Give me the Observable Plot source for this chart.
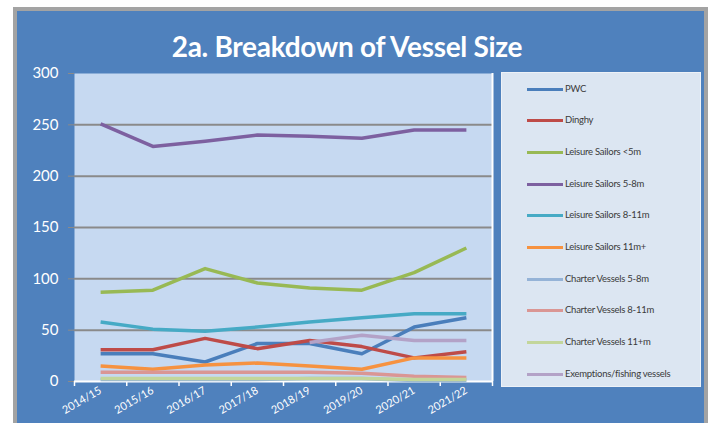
<!DOCTYPE html>
<html>
<head>
<meta charset="utf-8">
<script src="https://cdn.jsdelivr.net/npm/d3@7"></script>
<script src="https://cdn.jsdelivr.net/npm/@observablehq/plot@0.6"></script>
<style>
  html, body { margin: 0; padding: 0; background: #ffffff; width: 716px; height: 423px; overflow: hidden; }
  #panel { position: absolute; left: 13px; top: 7px; width: 695px; height: 440px; box-sizing: border-box;
           border: 4px solid #a3a3a3; border-bottom: none; background: #4f81bd; }
  #title { position: absolute; left: 17px; width: 660px; top: 29px; text-align: center; color: #ffffff;
           font-family: Lato, "Open Sans", sans-serif; font-weight: 700; font-size: 28px; letter-spacing: -0.3px; }
  #chart { position: absolute; left: 0; top: 0; }
  #legend { position: absolute; left: 501px; top: 72px; width: 200px; height: 315px; box-sizing: border-box;
            background: #dce6f2; border: 1.5px solid #eef2f8; }
  .item { position: absolute; left: 0; height: 14px; }
  .sw { position: absolute; left: 25px; width: 36px; height: 3px; top: 6px; }
  .lb { position: absolute; left: 63px; top: 0; white-space: nowrap; font-family: Lato, sans-serif;
        font-size: 9.5px; line-height: 14px; color: #3a3a3a; letter-spacing: -0.25px; }
</style>
</head>
<body>
<div id="panel"></div>
<div id="title">2a. Breakdown of Vessel Size</div>
<div id="chart"></div>
<div id="legend"></div>
<script>
const years = ["2014/15", "2015/16", "2016/17", "2017/18", "2018/19", "2019/20", "2020/21", "2021/22"];
const yTicks = [0, 50, 100, 150, 200, 250, 300];

const seriesNames = ["PWC", "Dinghy", "Leisure Sailors <5m", "Leisure Sailors 5-8m", "Leisure Sailors 8-11m",
  "Leisure Sailors 11m+", "Charter Vessels 5-8m", "Charter Vessels 8-11m", "Charter Vessels 11+m",
  "Exemptions/fishing vessels"];
const seriesColors = ["#4a7ebb", "#be4b48", "#98b954", "#7d60a0", "#46aac5",
  "#f69240", "#95b3d7", "#da9694", "#c3d69b", "#b3a2c7"];

const pwc        = [27, 27, 19, 37, 37, 27, 53, 62];
const dinghy     = [31, 31, 42, 32, 40, 34, 23, 29];
const leisureU5  = [87, 89, 110, 96, 91, 89, 106, 130];
const leisure5_8 = [251, 229, 234, 240, 239, 237, 245, 245];
const leisure8_11= [58, 51, 49, 53, 58, 62, 66, 66];
const leisure11  = [15, 12, 16, 18, 15, 12, 23, 23];
const charter5_8 = [2, 2, 2, 2, 3, 3, 1, 1];
const charter8_11= [9, 9, 9, 9, 9, 8, 5, 4];
const charter11  = [3, 3, 3, 3, 3, 3, 2, 2];
const exemptions = [null, null, null, null, 38, 45, 40, 40];

const seriesValues = [pwc, dinghy, leisureU5, leisure5_8, leisure8_11, leisure11,
  charter5_8, charter8_11, charter11, exemptions];

const tidy = [];
seriesNames.forEach((name, s) => {
  seriesValues[s].forEach((v, i) => tidy.push({name, i, value: v}));
});

const boundaries = d3.range(years.length + 1).map(k => k - 0.5);

const chart = Plot.plot({
  width: 500,
  height: 423,
  marginLeft: 74,
  marginRight: 8,
  marginTop: 73,
  marginBottom: 42,
  style: {background: "transparent", fontFamily: "Lato, sans-serif", overflow: "visible"},
  x: {type: "linear", domain: [-0.5, years.length - 0.5], label: null},
  y: {domain: [0, 300], label: null},
  color: {domain: seriesNames, range: seriesColors},
  marks: [
    Plot.frame({fill: "#c6d9f1", stroke: null}),
    Plot.ruleY(yTicks.filter(t => t > 0 && t < 300), {stroke: "#8a8a8a", strokeWidth: 2}),
    Plot.axisY(yTicks, {tickSize: 6, stroke: "#8a8a8a", tickFormat: () => "", strokeWidth: 1, label: null}),
    Plot.axisY(yTicks, {tickSize: 0, tickPadding: 16, fill: "#ffffff", fontSize: 15, label: null}),
    Plot.axisX(boundaries, {tickSize: 5, stroke: "#ffffff", strokeWidth: 1.5, tickFormat: () => "", label: null}),
    Plot.axisX(d3.range(years.length), {tickSize: 0, tickPadding: 8, tickRotate: -30, tickFormat: i => years[i],
      fill: "#ffffff", fontSize: 11, label: null}),
    Plot.ruleY([0], {stroke: "#ffffff", strokeWidth: 2}),
    Plot.ruleX([years.length - 0.5], {stroke: "#ffffff", strokeWidth: 2}),
    Plot.line(tidy, {x: "i", y: "value", z: "name", stroke: "name", strokeWidth: 3.5,
      strokeLinejoin: "round", strokeLinecap: "butt", curve: "linear"})
  ]
});
document.getElementById("chart").appendChild(chart);

const legend = document.getElementById("legend");
seriesNames.forEach((name, s) => {
  const item = document.createElement("div");
  item.className = "item";
  item.style.top = (8.5 + s * 31.7) + "px";
  item.style.width = "100%";
  const sw = document.createElement("div");
  sw.className = "sw";
  sw.style.background = seriesColors[s];
  const lb = document.createElement("div");
  lb.className = "lb";
  lb.textContent = name;
  item.appendChild(sw);
  item.appendChild(lb);
  legend.appendChild(item);
});
</script>
</body>
</html>
